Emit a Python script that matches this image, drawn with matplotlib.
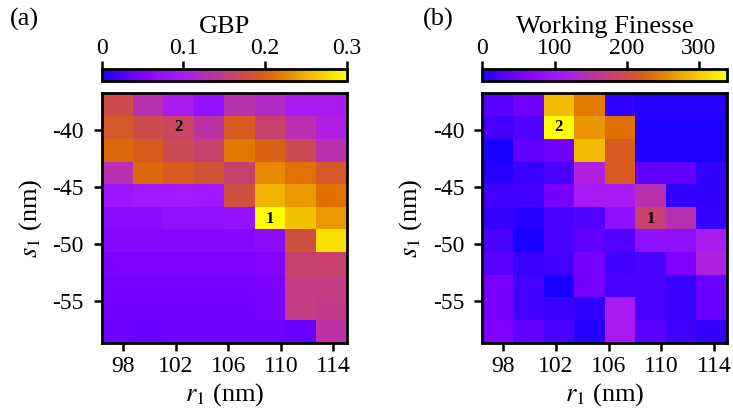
import numpy as np
import matplotlib
matplotlib.use("Agg")
from matplotlib import pyplot as plt
from matplotlib.colors import LinearSegmentedColormap

plt.rcParams['font.family'] = ['Liberation Serif', 'DejaVu Serif']
plt.rcParams['mathtext.fontset'] = 'stix'

# grid (cell centres, nm)
r1 = np.array([97.56, 99.89, 102.21, 104.54, 106.86, 109.19, 111.51, 113.84])
s1 = np.array([-37.8, -39.8, -41.8, -43.8, -45.8, -47.8, -49.7, -51.7, -53.7, -55.7, -57.7])

# GBP, rows top (s1=-37.8) to bottom
gbp = np.array([
    [0.175, 0.130, 0.100, 0.075, 0.130, 0.120, 0.100, 0.100],
    [0.190, 0.175, 0.165, 0.135, 0.195, 0.160, 0.130, 0.110],
    [0.205, 0.195, 0.170, 0.160, 0.215, 0.200, 0.170, 0.130],
    [0.130, 0.205, 0.195, 0.185, 0.160, 0.225, 0.210, 0.190],
    [0.085, 0.090, 0.092, 0.088, 0.180, 0.250, 0.235, 0.210],
    [0.065, 0.065, 0.070, 0.070, 0.075, 0.300, 0.260, 0.235],
    [0.062, 0.060, 0.060, 0.060, 0.060, 0.065, 0.180, 0.280],
    [0.050, 0.050, 0.050, 0.050, 0.050, 0.055, 0.160, 0.160],
    [0.045, 0.045, 0.045, 0.045, 0.045, 0.048, 0.150, 0.150],
    [0.043, 0.043, 0.043, 0.043, 0.043, 0.046, 0.150, 0.148],
    [0.038, 0.036, 0.038, 0.038, 0.038, 0.038, 0.035, 0.135],
])

# working finesse
wf = np.array([
    [32, 44, 288, 244, 13, 7, 7, 7],
    [22, 29, 339, 264, 237, 3, 3, 3],
    [1, 37, 44, 288, 220, 3, 3, 3],
    [7, 17, 25, 125, 220, 36, 36, 13],
    [22, 22, 51, 112, 112, 146, 13, 13],
    [15, 7, 25, 29, 78, 180, 146, 15],
    [24, 1, 25, 36, 29, 78, 78, 115],
    [32, 17, 22, 51, 22, 25, 58, 125],
    [51, 22, 1, 51, 25, 25, 17, 41],
    [51, 22, 17, 13, 112, 25, 17, 41],
    [58, 37, 25, 7, 112, 32, 22, 13],
])

# marked points: (label, column, row)
marks = [("1", 5, 5), ("2", 2, 1)]

cmap = LinearSegmentedColormap.from_list("bpy", [
    (0.00, "#1800ff"), (0.12, "#6c00ff"), (0.17, "#8000ff"),
    (0.23, "#9010ff"), (0.30, "#a018ff"), (0.37, "#b020e0"),
    (0.43, "#b830b0"), (0.53, "#c84070"), (0.60, "#d05040"),
    (0.65, "#d85a20"), (0.70, "#e07000"), (0.77, "#e89000"),
    (0.83, "#f0b000"), (0.90, "#f8d000"), (1.00, "#ffff00")])


def edges(c):
    mid = (c[1:] + c[:-1]) / 2
    return np.concatenate([[2 * c[0] - mid[0]], mid, [2 * c[-1] - mid[-1]]])


fig = plt.figure(figsize=(7.33, 4.13), dpi=100)

panels = [
    (gbp, 0.3, "GBP", "(a)", 0.139, 0.014, [0, 0.1, 0.2, 0.3], ["0", "0.1", "0.2", "0.3"]),
    (wf, 339, "Working Finesse", "(b)", 0.658, 0.577, [0, 100, 200, 300], ["0", "100", "200", "300"]),
]

for data, vmax, title, tag, left, tagx, cticks, clabels in panels:
    ax = fig.add_axes([left, 0.1695, 0.334, 0.605])
    mesh = ax.pcolormesh(edges(r1), edges(s1), data, cmap=cmap, vmin=0, vmax=vmax)
    ax.set_xlim(edges(r1)[0], edges(r1)[-1])
    ax.set_ylim(edges(s1)[-1], edges(s1)[0])
    ax.set_xticks([98, 102, 106, 110, 114])
    ax.set_yticks([-40, -45, -50, -55])
    ax.set_yticklabels(["-40", "-45", "-50", "-55"])
    ax.tick_params(labelsize=17, length=6, width=1.8, direction='out')
    ax.tick_params(axis='y', pad=7)
    for sp in ax.spines.values():
        sp.set_linewidth(2)
    ax.set_xlabel(r"$r_1$ (nm)", fontsize=19, labelpad=3)
    ax.set_ylabel(r"$s_1$ (nm)", fontsize=19, labelpad=6)
    for lab, ci, ri in marks:
        ax.text(r1[ci], s1[ri], lab, ha='center', va='center', fontsize=12,
                fontweight='bold')

    cax = fig.add_axes([left, 0.804, 0.334, 0.029])
    cb = fig.colorbar(mesh, cax=cax, orientation='horizontal')
    cb.set_ticks(cticks)
    cb.set_ticklabels(clabels)
    cax.xaxis.set_ticks_position('top')
    cax.xaxis.set_label_position('top')
    cax.tick_params(labelsize=17, length=6, width=1.8, pad=1)
    cb.outline.set_linewidth(2)
    cax.set_title(title, fontsize=19, pad=26)
    fig.text(tagx, 0.952, tag, fontsize=19, va='center')

plt.savefig("out.png", dpi=100)
